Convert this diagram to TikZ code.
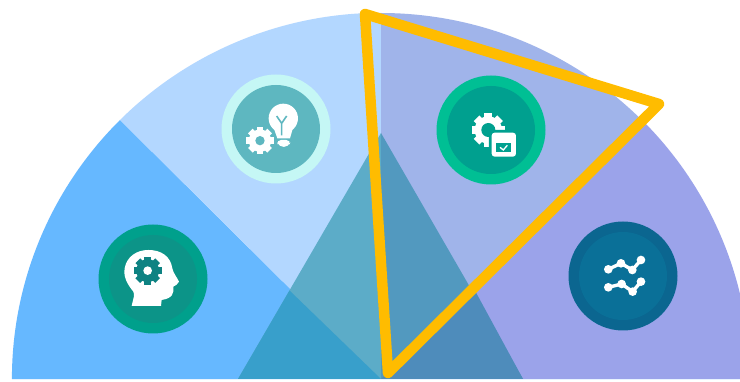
\documentclass[tikz,border=0pt]{standalone}
\definecolor{secA}{HTML}{66B8FF}
\definecolor{secB}{HTML}{B3D7FF}
\definecolor{secC}{HTML}{A0B4EA}
\definecolor{secD}{HTML}{9BA3EA}
\definecolor{triA}{HTML}{389FCB}
\definecolor{triB}{HTML}{5CACC8}
\definecolor{triC}{HTML}{5299BF}
\definecolor{triD}{HTML}{4E8CBB}
\definecolor{gold}{HTML}{FFBC00}
\definecolor{ringA}{HTML}{00A08C}
\definecolor{coreA}{HTML}{0C9488}
\definecolor{ringB}{HTML}{C5F7F5}
\definecolor{coreB}{HTML}{5EB7C0}
\definecolor{ringC}{HTML}{00BF94}
\definecolor{coreC}{HTML}{00A08F}
\definecolor{ringD}{HTML}{0B6690}
\definecolor{coreD}{HTML}{0A7098}
\definecolor{gearDark}{HTML}{0E8282}
\newcommand{\gearicon}[6]{% x,y,r,hole,gear colour,hole colour
  \fill[#5] (#1,#2) circle[radius=#3*0.82];
  \foreach \a in {0,45,...,315}
    \fill[#5,rotate around={\a:(#1,#2)}] (#1-#3*0.24,#2) rectangle (#1+#3*0.24,#2-#3);
  \fill[#6] (#1,#2) circle[radius=#4];
}
\begin{document}
\begin{tikzpicture}[x=1pt,y=-1pt,
  chartline/.style={draw=white,line width=3.4pt,line join=round},
  chartdot/.style={fill=white}]
\useasboundingbox (0,0) rectangle (740,382);
\fill[white] (0,0) rectangle (740,382);
% sectors
\coordinate (c) at (381,379);
\begin{scope}
\clip (0,0) rectangle (740,379);
\fill[secA] (c) -- (120,120) arc[start angle=135,end angle=180,x radius=369,y radius=-366] -- cycle;
\fill[secB] (c) -- (120,120) arc[start angle=135,end angle=90,x radius=369,y radius=-366] -- cycle;
\fill[secC] (c) -- (381,13) arc[start angle=90,end angle=45,x radius=369,y radius=-366] -- cycle;
\fill[secD] (c) -- (642,120) arc[start angle=45,end angle=0,x radius=369,y radius=-366] -- cycle;
\end{scope}
% central triangle
\coordinate (apex) at (381,133);
\coordinate (bl) at (238,379);
\coordinate (br) at (523,379);
\fill[triB] (apex) -- (c) -- (bl) -- cycle;
\fill[triC] (apex) -- (c) -- (br) -- cycle;
\fill[triA] (c) -- (bl) -- (289.5,290.5) -- cycle;
\fill[triD] (c) -- (br) -- (473,287) -- cycle;
\fill[white!70!secB] (12,379) rectangle (740,380.5);
% medallions
\fill[ringA] (153,279) circle[radius=54.5];
\fill[coreA] (153,279) circle[radius=44];
\fill[ringB] (276,129) circle[radius=54.5];
\fill[coreB] (276,129) circle[radius=44];
\fill[ringC] (491,130) circle[radius=54.5];
\fill[coreC] (491,130) circle[radius=44];
\fill[ringD] (623,276) circle[radius=54.5];
\fill[coreD] (623,276) circle[radius=44];
% head icon
\begin{scope}[shift={(80,60)},x=0.3333pt,y=-0.3333pt]
\fill[white] (155,738) .. controls (160,715) and (165,705) .. (160,695)
  .. controls (140,670) and (130,650) .. (134,625)
  .. controls (140,590) and (170,570) .. (205,570)
  .. controls (245,570) and (272,590) .. (277,625)
  .. controls (280,640) and (290,650) .. (297,665)
  .. controls (295,675) and (285,675) .. (280,680)
  .. controls (282,700) and (278,715) .. (245,720)
  -- (243,738) -- cycle;
\gearicon{203}{632}{42}{13}{gearDark}{white}
\end{scope}
% bulb and gear icon
\begin{scope}[shift={(80,60)},x=0.3333pt,y=-0.3333pt]
\fill[white] (610,175) circle[radius=44];
\fill[white] (580,200) -- (640,200) -- (630,235) -- (592,235) -- cycle;
\fill[white,rounded corners=5pt] (588,240) -- (634,240) -- (626,261) -- (597,261) -- cycle;
\draw[coreB,line width=1.6pt,line join=round] (590,168) -- (605,190) -- (620,168) (605,190) -- (605,226);
\gearicon{540}{242}{41}{14}{white}{coreB}
\end{scope}
% gear and box icon
\begin{scope}[shift={(420,60)},x=0.3333pt,y=-0.3333pt]
\gearicon{205}{210}{50}{21}{white}{coreC}
\fill[coreC,rounded corners=3pt] (207,210) rectangle (296,298);
\fill[white,rounded corners=3pt] (215,218) rectangle (288,290);
\fill[coreC] (228,250) rectangle (273,276);
\draw[white,line width=1.3pt] (240,262) -- (250,270) -- (262,256);
\end{scope}
% chart icon
\begin{scope}[shift={(420,60)},x=0.3333pt,y=-0.3333pt]
\draw[chartline] (565,628) -- (603,610) -- (637,630) -- (663,600);
\draw[chartline] (565,682) -- (605,672) -- (638,695) -- (663,665);
\foreach \p in {(565,628),(603,610),(637,630),(663,600),(565,682),(605,672),(638,695),(663,665)}
  \fill[chartdot] \p circle[radius=13];
\end{scope}
% gold triangle
\coordinate (g1) at (365,14);
\coordinate (g2) at (659,104);
\coordinate (g3) at (388,373);
\draw[gold,line width=10.5pt,line join=round] (g1) -- (g2) -- (g3) -- cycle;
\end{tikzpicture}
\end{document}
